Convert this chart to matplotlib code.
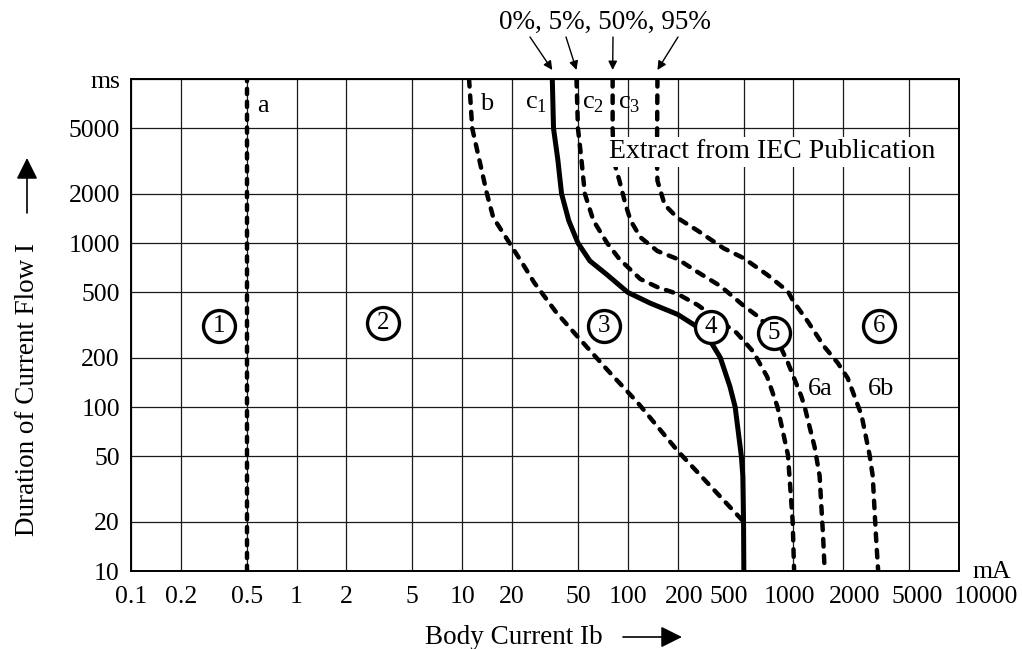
import matplotlib
matplotlib.use("Agg")
import matplotlib.pyplot as plt
from matplotlib.patches import FancyArrowPatch

plt.rcParams['font.family'] = ['Liberation Serif', 'DejaVu Serif']
plt.rcParams['mathtext.fontset'] = 'custom'
plt.rcParams['mathtext.rm'] = 'Liberation Serif'

# ---- data (mA, ms) ----
x_ticks = [0.1, 0.2, 0.5, 1, 2, 5, 10, 20, 50, 100, 200, 500, 1000, 2000, 5000, 10000]
x_labels = ["0.1", "0.2", "0.5", "1", "2", "5", "10", "20", "50", "100", "200", "500",
            "1000", "2000", "5000", "10000"]
y_ticks = [10, 20, 50, 100, 200, 500, 1000, 2000, 5000, 10000]
y_labels = ["10", "20", "50", "100", "200", "500", "1000", "2000", "5000", "ms"]

a_x = [0.5, 0.5]
a_y = [10, 10000]
b_x = [11, 11.5, 14.1, 15.4, 19.3, 23.3, 27.2, 36.8, 50, 75, 115, 200, 500]
b_y = [10000, 5000, 2000, 1430, 1000, 741, 574, 380, 267, 169, 106, 54, 20]
c1_x = [35, 35.6, 37.8, 39.8, 44, 50, 59, 75, 100, 137, 200, 264, 303, 362, 414, 445, 485, 495, 500, 502]
c1_y = [10000, 5000, 3220, 2000, 1370, 1000, 778, 640, 500, 429, 367, 307, 269, 200, 133, 100, 50, 38, 20, 10]
c2_x = [49, 50, 52.5, 55, 62, 75, 89, 119, 151, 200, 264, 453, 571, 694, 802, 927, 990, 1010]
c2_y = [10000, 5000, 3220, 2000, 1370, 1000, 798, 603, 538, 489, 419, 284, 218, 153, 100, 51, 20, 10]
c3_x = [81, 81, 82, 89, 97, 104, 119, 151, 200, 264, 362, 500, 631, 802, 927, 1117, 1170, 1343, 1440, 1510, 1545]
c3_y = [10000, 5000, 3200, 2400, 1710, 1370, 1085, 893, 798, 665, 547, 415, 348, 255, 186, 116, 100, 57, 38, 16.5, 10]
p95_x = [151, 150, 151, 167, 200, 264, 378, 500, 694, 927, 1000, 1220, 1537, 1850, 2128, 2580, 2884, 3013, 3150, 3250]
p95_y = [10000, 3200, 2400, 1710, 1420, 1190, 930, 809, 641, 507, 440, 333, 233, 186, 150, 89, 51, 38, 16.5, 10]

zone_labels = ["1", "2", "3", "4", "5", "6"]
zone_x = [0.34, 3.33, 72, 316, 762, 3290]
zone_y = [314, 323, 314, 306, 282, 314]

# curve names: (text, x, y)
curve_names = [("a", 0.58, 6870), ("b", 12.9, 7050), (r"c$_\mathrm{1}$", 24.1, 7000),
               (r"c$_\mathrm{2}$", 53, 7000), (r"c$_\mathrm{3}$", 87, 7000),
               ("6a", 1225, 128), ("6b", 2820, 128)]

W, H = 1022, 649
fig = plt.figure(figsize=(W / 100, H / 100), dpi=100)
ax = fig.add_axes([131 / W, 1 - 571 / H, 828 / W, 492 / H])
ax.set_xscale('log')
ax.set_yscale('log')
ax.set_xlim(0.1, 10000)
ax.set_ylim(10, 10000)
ax.set_xticks(x_ticks)
ax.set_yticks(y_ticks)
ax.minorticks_off()
ax.set_xticklabels([])
ax.set_yticklabels(y_labels, fontsize=18.5)
ax.tick_params(length=0, pad=8)
ax.grid(True, color='#1a1a1a', lw=0.9)
ax.set_axisbelow(True)
for s in ax.spines.values():
    s.set_linewidth(1.4)

# x tick labels drawn by hand so the crowded right-hand ones can be nudged
x_nudge = {"200": 5, "500": -11, "1000": -3, "2000": 8, "5000": 6, "10000": 19}
for v, lab in zip(x_ticks, x_labels):
    ax.annotate(lab, xy=(v, 0), xycoords=('data', 'axes fraction'),
                xytext=(x_nudge.get(lab, 0), -19), textcoords='offset points',
                ha='center', va='center', fontsize=18.5)

dash = dict(color='black', lw=3.2, ls=(0, (1.7, 2.0)), dash_capstyle='round',
            solid_joinstyle='round')
ax.plot(a_x, a_y, color='black', lw=3.2, ls=(0, (1.2, 1.7)), dash_capstyle='round')
ax.plot(b_x, b_y, **dash)
ax.plot(c1_x, c1_y, color='black', lw=3.6, solid_joinstyle='round')
ax.plot(c2_x, c2_y, **dash)
ax.plot(c3_x, c3_y, **dash)
ax.plot(p95_x, p95_y, **dash)

# circled zone numbers
for lab, x, y in zip(zone_labels, zone_x, zone_y):
    ax.plot([x], [y], marker='o', ms=23, mfc='white', mec='black', mew=2.4, zorder=5)
    ax.text(x, y, lab, ha='center', va='center', fontsize=18, zorder=6)

for t, x, y in curve_names:
    ax.text(x, y, t, ha='left', va='center', fontsize=19)

ax.text(77, 3590, "Extract from IEC Publication", ha='left', va='center', fontsize=20,
        bbox=dict(boxstyle='square,pad=0.1', fc='white', ec='none'), zorder=4)

# percentage arrows above the plot
fig.text(605 / W, 1 - 22 / H, "0%, 5%, 50%, 95%", ha='center', va='center', fontsize=19.5)
tops = [c1_x[0], c2_x[0], c3_x[0], p95_x[0]]
tails = [530, 566, 613, 678]
for xt, tx in zip(tops, tails):
    ax.annotate("", xy=(xt, 1 - 70 / H), xycoords=('data', 'figure fraction'),
                xytext=(tx / W, 1 - 37 / H), textcoords='figure fraction',
                arrowprops=dict(arrowstyle='-|>', lw=1.0, color='black', mutation_scale=13,
                                shrinkA=0, shrinkB=0), annotation_clip=False)

fig.text(992 / W, 1 - 572 / H, "mA", ha='center', va='center', fontsize=18.5)

# axis labels with arrows
fig.text(28 / W, 1 - 390 / H, "Duration of Current Flow I", rotation=90,
         ha='center', va='center', fontsize=19.5)
fig.text(514 / W, 1 - 637 / H, "Body Current Ib", ha='center', va='center', fontsize=19.5)
big = dict(arrowstyle='-|>,head_length=0.5,head_width=0.25', lw=1.2, color='black',
           mutation_scale=26, shrinkA=0, shrinkB=0)
fig.add_artist(FancyArrowPatch((27 / W, 1 - 213 / H), (27 / W, 1 - 158 / H),
                               transform=fig.transFigure, **big))
fig.add_artist(FancyArrowPatch((623 / W, 1 - 637 / H), (682 / W, 1 - 637 / H),
                               transform=fig.transFigure, **big))

fig.savefig("out.png", dpi=100, facecolor='white')
